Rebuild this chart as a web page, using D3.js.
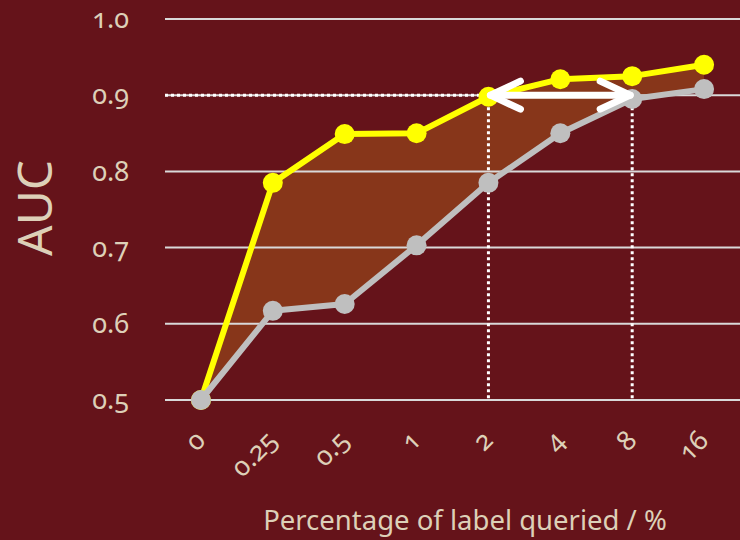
<!DOCTYPE html>
<html lang="en">
<head>
    <meta charset="UTF-8">
    <title>AUC vs label queried</title>
    <script src="https://cdn.jsdelivr.net/npm/d3@7"></script>
    <style>
        body { margin: 0; background: #65131a; }
        text { font-family: "Noto Sans", "Open Sans", sans-serif; fill: #ddd0b8; font-variant-numeric: oldstyle-nums; }
    </style>
</head>
<body>
<div id="chart"></div>

<script>
    // data
    var categories = ["0", "0.25", "0.5", "1", "2", "4", "8", "16"];
    var yellowAuc = [0.500, 0.785, 0.849, 0.850, 0.898, 0.921, 0.925, 0.940];
    var greyAuc   = [0.500, 0.617, 0.626, 0.703, 0.785, 0.850, 0.895, 0.908];
    var yTicks = [0.5, 0.6, 0.7, 0.8, 0.9, 1.0];
    var targetAuc = 0.9;
    var arrowFrom = "2", arrowTo = "8";

    var width = 740, height = 540;

    var svg = d3.select("#chart").append("svg")
        .attr("width", width)
        .attr("height", height);

    svg.append("rect").attr("width", width).attr("height", height).attr("fill", "#65131a");

    var x = d3.scaleBand().domain(categories).range([165, 740]).padding(0);
    var y = d3.scaleLinear().domain([0.5, 1.0]).range([400, 19]);
    function cx(c) { return x(c) + x.bandwidth() / 2; }

    var rows = categories.map(function(c, i) {
        return {c: c, hi: yellowAuc[i], lo: greyAuc[i]};
    });

    // shaded band between the two curves
    var area = d3.area()
        .x(function(d) { return cx(d.c); })
        .y0(function(d) { return y(d.lo); })
        .y1(function(d) { return y(d.hi); });
    svg.append("path").datum(rows)
        .attr("d", area)
        .attr("fill", "#87361a");

    // grid lines (drawn over the band)
    svg.append("g").selectAll("line")
        .data(yTicks)
        .join("line")
        .attr("x1", 165).attr("x2", 740)
        .attr("y1", function(d) { return y(d); })
        .attr("y2", function(d) { return y(d); })
        .attr("stroke", "#d9d9d9")
        .attr("stroke-width", 2);

    // y axis labels
    var yAxis = d3.axisLeft(y).tickValues(yTicks).tickFormat(d3.format(".1f")).tickSize(0).tickPadding(0);
    var gy = svg.append("g").attr("transform", "translate(129,0)").call(yAxis);
    gy.select(".domain").remove();
    gy.selectAll("text").attr("font-size", 27).attr("fill", "#ddd0b8")
        .style("font-family", "'Noto Sans', sans-serif");

    // x axis labels, rotated
    var xAxis = d3.axisBottom(x).tickSize(0).tickPadding(0);
    var gx = svg.append("g").attr("transform", "translate(0,400)").call(xAxis);
    gx.select(".domain").remove();
    gx.selectAll("text")
        .attr("font-size", 27)
        .attr("fill", "#ddd0b8")
        .style("font-family", "'Noto Sans', sans-serif")
        .attr("text-anchor", "end")
        .attr("dy", null)
        .attr("y", 0)
        .attr("transform", "translate(6,42) rotate(-45)");

    // dotted guide lines at target AUC
    var guide = svg.append("g")
        .attr("stroke", "#ffffff")
        .attr("stroke-width", 3)
        .attr("stroke-dasharray", "3,3")
        .attr("fill", "none");
    guide.append("line")
        .attr("x1", 165).attr("x2", cx(arrowFrom))
        .attr("y1", y(targetAuc)).attr("y2", y(targetAuc));
    guide.append("line")
        .attr("x1", cx(arrowFrom)).attr("x2", cx(arrowFrom))
        .attr("y1", y(targetAuc)).attr("y2", y(0.5));
    guide.append("line")
        .attr("x1", cx(arrowTo)).attr("x2", cx(arrowTo))
        .attr("y1", y(targetAuc)).attr("y2", y(0.5));

    // lines + markers
    var line = d3.line().x(function(d) { return cx(d.c); });
    function drawSeries(key, colour) {
        svg.append("path").datum(rows)
            .attr("d", line.y(function(d) { return y(d[key]); }))
            .attr("fill", "none")
            .attr("stroke", colour)
            .attr("stroke-width", 6)
            .attr("stroke-linejoin", "round");
        svg.append("g").selectAll("circle")
            .data(rows)
            .join("circle")
            .attr("cx", function(d) { return cx(d.c); })
            .attr("cy", function(d) { return y(d[key]); })
            .attr("r", 10)
            .attr("fill", colour);
    }
    drawSeries("hi", "#ffff00");
    drawSeries("lo", "#bfbfbf");

    // double-headed arrow between the two 0.9 crossings
    var ax0 = cx(arrowFrom) + 2, ax1 = cx(arrowTo) - 2, ay = y(targetAuc);
    var arrow = svg.append("g")
        .attr("stroke", "#ffffff")
        .attr("stroke-width", 7)
        .attr("stroke-linecap", "round")
        .attr("stroke-linejoin", "round")
        .attr("fill", "none");
    arrow.append("line").attr("x1", ax0).attr("x2", ax1).attr("y1", ay).attr("y2", ay);
    arrow.append("path").attr("d", "M" + (ax0 + 30) + "," + (ay - 14) + "L" + ax0 + "," + ay + "L" + (ax0 + 30) + "," + (ay + 14));
    arrow.append("path").attr("d", "M" + (ax1 - 30) + "," + (ay - 14) + "L" + ax1 + "," + ay + "L" + (ax1 - 30) + "," + (ay + 14));

    // axis titles
    svg.append("text")
        .attr("transform", "translate(52,208) rotate(-90)")
        .attr("text-anchor", "middle")
        .attr("font-size", 48)
        .text("AUC");

    svg.append("text")
        .attr("x", 465).attr("y", 530)
        .attr("text-anchor", "middle")
        .attr("font-size", 27.5)
        .text("Percentage of label queried / %");
</script>
</body>
</html>
